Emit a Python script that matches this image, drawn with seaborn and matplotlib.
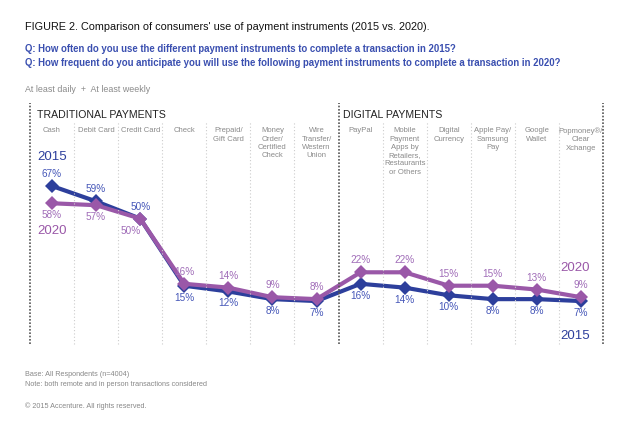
import matplotlib
matplotlib.use("Agg")
import matplotlib.pyplot as plt
import seaborn as sns
import pandas as pd

categories = ["Cash", "Debit Card", "Credit Card", "Check", "Prepaid/\nGift Card",
              "Money\nOrder/\nCertified\nCheck", "Wire\nTransfer/\nWestern\nUnion",
              "PayPal", "Mobile\nPayment\nApps by\nRetailers,\nRestaurants\nor Others",
              "Digital\nCurrency", "Apple Pay/\nSamsung\nPay", "Google\nWallet",
              "Popmoney®/\nClear\nXchange"]
values_2015 = [67, 59, 50, 15, 12, 8, 7, 16, 14, 10, 8, 8, 7]
values_2020 = [58, 57, 50, 16, 14, 9, 8, 22, 22, 15, 15, 13, 9]
# label placement: +1 above, -1 below
pos_2015 = [1, 1, 1, -1, -1, -1, -1, -1, -1, -1, -1, -1, -1]
pos_2020 = [-1, -1, -1, 1, 1, 1, 1, 1, 1, 1, 1, 1, 1]

sns.set_theme(style="white")
plt.rcParams['font.family'] = ['Liberation Sans', 'DejaVu Sans']

C15 = "#2d3f9c"
C20 = "#9a58a8"
T15 = "#4556b8"
T20 = "#a06cb8"

n = len(categories)
df = pd.DataFrame({
    "x": list(range(n)) * 2,
    "value": values_2015 + values_2020,
    "year": ["2015"] * n + ["2020"] * n,
})

fig = plt.figure(figsize=(6.2, 4.42), dpi=100)
ax = fig.add_axes([30 / 620, 1 - 344 / 442, 573 / 620, 241 / 442])
ax.set_xlim(-0.5, n - 0.5)
ax.set_ylim(-15.4, 110.3)

sns.lineplot(data=df, x="x", y="value", hue="year", palette={"2015": C15, "2020": C20},
             style="year", markers={"2015": "D", "2020": "D"}, dashes=False,
             linewidth=3, markersize=7, markeredgewidth=0, sort=False, ax=ax, legend=False)

for i in range(n):
    dx20 = -10 if i == 2 else 0
    ax.annotate(f"{values_2015[i]}%", (i, values_2015[i]), xytext=(0, 12 * pos_2015[i]),
                textcoords="offset pixels", ha="center", va="center", fontsize=7.2, color=T15)
    ax.annotate(f"{values_2020[i]}%", (i, values_2020[i]), xytext=(dx20, 12 * pos_2020[i]),
                textcoords="offset pixels", ha="center", va="center", fontsize=7.2, color=T20)
    ax.text(i, 97.6, categories[i], ha="center", va="top", fontsize=5.5, color="#8a8a8a",
            linespacing=1.25)

# separators
for k in range(n + 1):
    xs = k - 0.5
    if k in (0, 7, n):
        ax.plot([xs, xs], [-15.4, 110.3], ls=(0, (1, 1)), color="#555555", lw=1.2,
                clip_on=False)
    else:
        ax.plot([xs, xs], [-15.4, 100.3], ls=(0, (1, 2)), color="#cccccc", lw=0.8,
                clip_on=False)

ax.text(-0.35, 104, "TRADITIONAL PAYMENTS", ha="left", va="center", fontsize=7.6, color="#222222")
ax.text(6.6, 104, "DIGITAL PAYMENTS", ha="left", va="center", fontsize=7.6, color="#222222")

ax.text(0, 82.1, "2015", ha="center", va="center", fontsize=9.5, color=C15)
ax.text(0, 43.5, "2020", ha="center", va="center", fontsize=9.5, color=C20)
ax.text(11.86, 24.2, "2020", ha="center", va="center", fontsize=9.5, color=C20)
ax.text(11.86, -11.3, "2015", ha="center", va="center", fontsize=9.5, color=C15)

ax.set_axis_off()

fig.text(25 / 620, 1 - 27 / 442, "FIGURE 2. Comparison of consumers' use of payment instruments (2015 vs. 2020).",
         ha="left", va="center", fontsize=7.8, color="#111111")
fig.text(25 / 620, 1 - 49 / 442, "Q: How often do you use the different payment instruments to complete a transaction in 2015?",
         ha="left", va="center", fontsize=6.9, color="#3a4fb0", fontweight="bold")
fig.text(25 / 620, 1 - 63 / 442, "Q: How frequent do you anticipate you will use the following payment instruments to complete a transaction in 2020?",
         ha="left", va="center", fontsize=6.9, color="#3a4fb0", fontweight="bold")
fig.text(25 / 620, 1 - 89 / 442, "At least daily  +  At least weekly",
         ha="left", va="center", fontsize=6.4, color="#8a8a8a")
fig.text(25 / 620, 1 - 374 / 442, "Base: All Respondents (n=4004)",
         ha="left", va="center", fontsize=5.2, color="#888888")
fig.text(25 / 620, 1 - 385 / 442, "Note: both remote and in person transactions considered",
         ha="left", va="center", fontsize=5.2, color="#888888")
fig.text(25 / 620, 1 - 406 / 442, "© 2015 Accenture. All rights reserved.",
         ha="left", va="center", fontsize=5.2, color="#888888")

fig.savefig("out.png", dpi=100)
